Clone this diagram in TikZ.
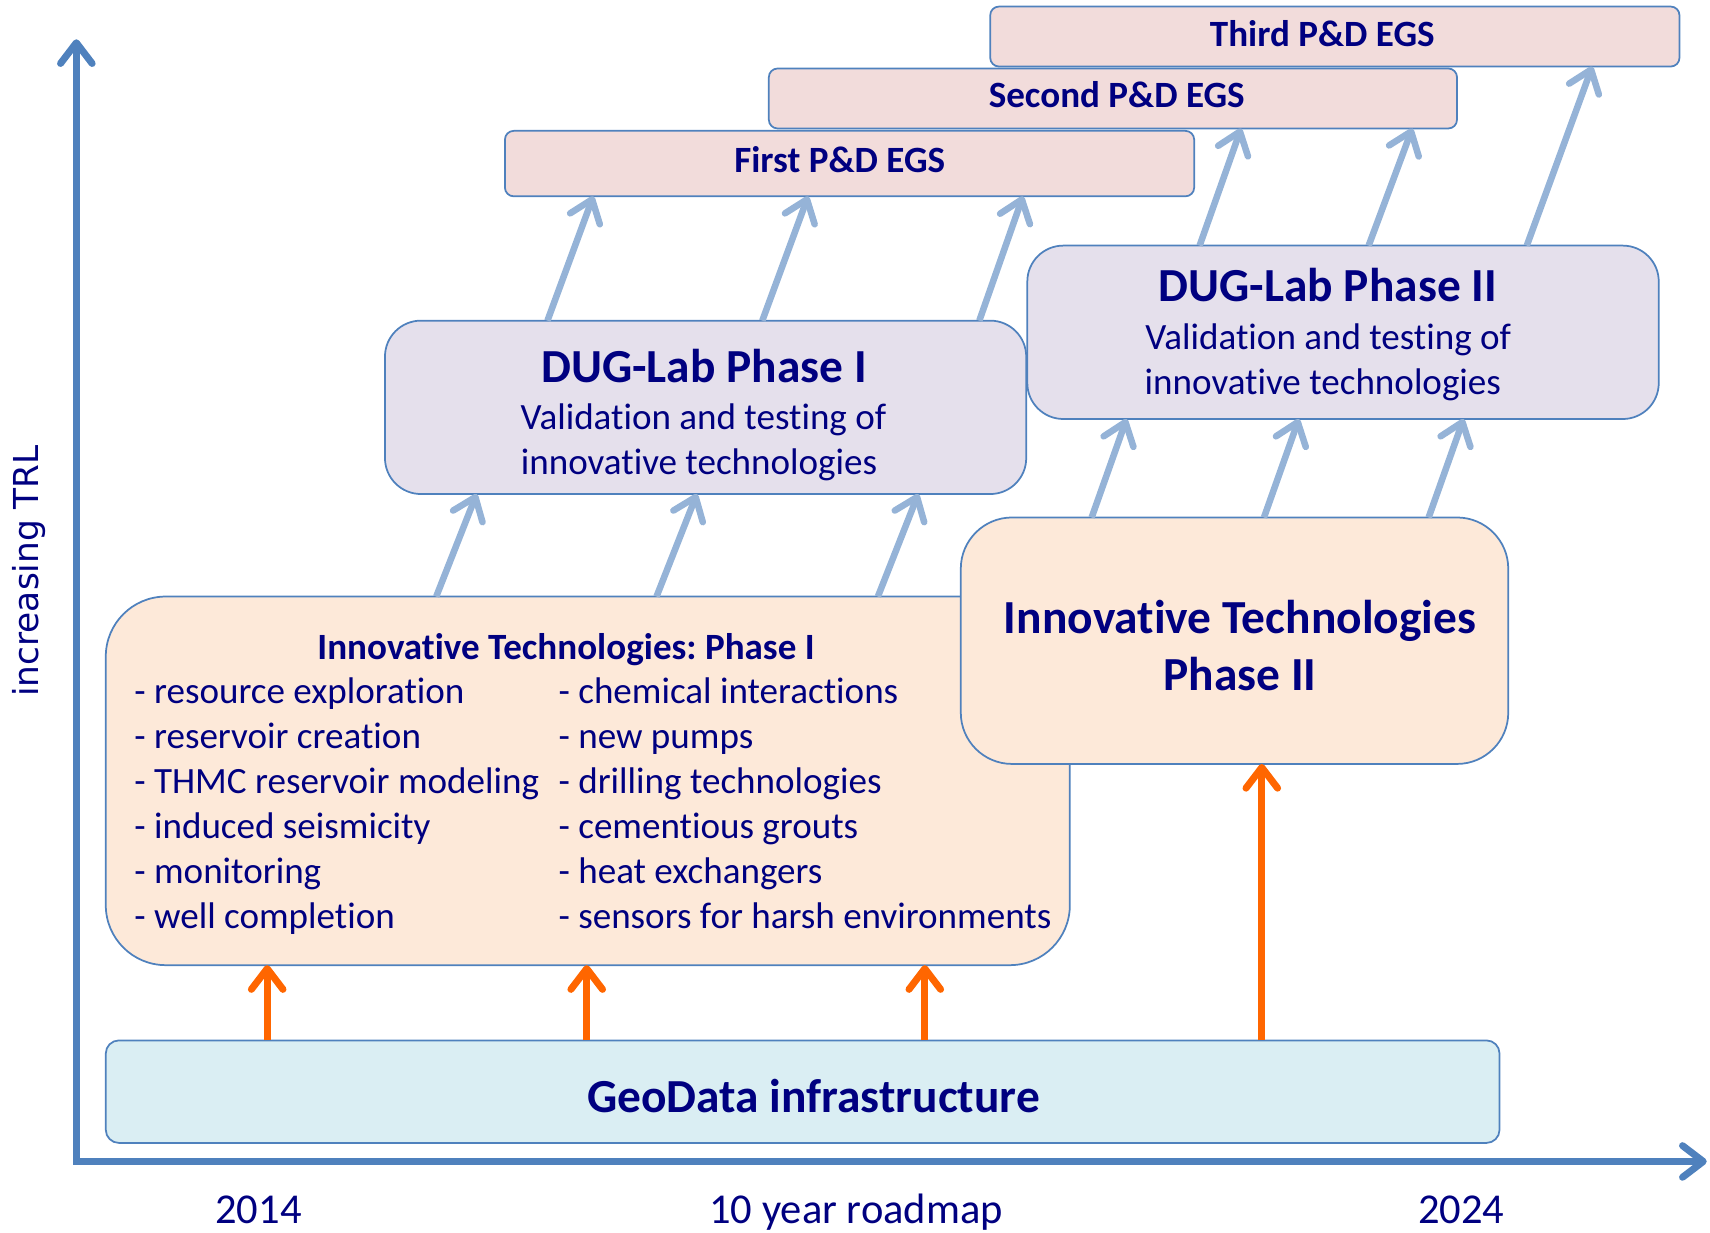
\documentclass[tikz,border=0pt]{standalone}
\usepackage{fontspec}
\setmainfont{Carlito}[Ligatures={NoCommon}]
\newfontfamily\dejavu{DejaVu Sans}
\usetikzlibrary{arrows.meta}
\definecolor{navy}{HTML}{000080}
\definecolor{axisblue}{HTML}{4F81BD}
\definecolor{lightb}{HTML}{95B3D7}
\definecolor{orangec}{HTML}{FF6600}
\definecolor{geofill}{HTML}{DAEEF3}
\definecolor{itfill}{HTML}{FDE9D9}
\definecolor{dugfill}{HTML}{E5E0EC}
\definecolor{pdfill}{HTML}{F2DCDB}
\frenchspacing
\begin{document}
\begin{tikzpicture}[x=1pt,y=-1pt,
  box/.style={draw=axisblue, line width=1.6pt, inner sep=0pt, outer sep=0pt},
  txt/.style={text=navy, inner sep=0pt, anchor=base},
  big/.style={font=\fontsize{43.5}{52}\selectfont\bfseries},
  mid/.style={font=\fontsize{34}{41}\selectfont},
  midb/.style={font=\fontsize{34}{41}\selectfont\bfseries},
  yr/.style={font=\fontsize{39}{47}\selectfont},
  arrO/.style={draw=orangec, line width=6.4pt, -{Straight Barb[length=19pt,width=29pt,round]}},
  arrB/.style={draw=lightb, line width=6pt, -{Straight Barb[length=19pt,width=29pt,round]}},
  axisarr/.style={draw=axisblue, line width=6.4pt, line join=miter,
    {Straight Barb[length=19pt,width=29pt,round]}-{Straight Barb[length=19pt,width=29pt,round]}}
]
\useasboundingbox (0,0) rectangle (1568,1130);

% axes
\coordinate (origin) at (70,1065);
\coordinate (ytip) at (70,36);
\coordinate (xtip) at (1565,1065);
\draw[axisarr] (ytip) -- (origin) -- (xtip);
\node[txt, anchor=base, rotate=90, font=\dejavu\fontsize{31.5}{38}\selectfont] (trl) at (35,523.5) {increasing TRL};
\node[txt, yr] (y2014) at (237,1122) {2014};
\node[txt, yr] (road) at (785,1122) {10 year roadmap};
\node[txt, yr] (y2024) at (1340,1122) {2024};

% boxes
\node[box, fill=geofill, rounded corners=12pt, minimum width=1278pt, minimum height=94pt] (geo) at (736,1001) {};
\node[box, fill=itfill, rounded corners=55pt, minimum width=884pt, minimum height=338pt] (itp1) at (539,716) {};
\node[box, fill=itfill, rounded corners=47pt, minimum width=502pt, minimum height=226pt] (itp2) at (1132,587.5) {};
\node[box, fill=dugfill, rounded corners=33pt, minimum width=588pt, minimum height=159pt] (dug1) at (647,373.5) {};
\node[box, fill=dugfill, rounded corners=33pt, minimum width=579pt, minimum height=159pt] (dug2) at (1231.5,304.7) {};
\node[box, fill=pdfill, rounded corners=8pt, minimum width=632pt, minimum height=60pt] (pd1) at (779,150) {};
\node[box, fill=pdfill, rounded corners=8pt, minimum width=631pt, minimum height=55pt] (pd2) at (1020.5,90.3) {};
\node[box, fill=pdfill, rounded corners=8pt, minimum width=632pt, minimum height=55pt] (pd3) at (1224,33.5) {};

% texts
\node[txt, big] (geot) at (746,1020) {GeoData infrastructure};
\node[txt, midb] (itp1t) at (519,604.5) {Innovative Technologies: Phase I};
\foreach \t [count=\i] in {{- resource exploration},{- reservoir creation},{- THMC reservoir modeling},{- induced seismicity},{- monitoring},{- well completion}}
  \node[txt, mid, anchor=base west] (la\i) at (123,{645.5+41.1*(\i-1)}) {\t};
\foreach \t [count=\i] in {{- chemical interactions},{- new pumps},{- drilling technologies},{- cementious grouts},{- heat exchangers},{- sensors for harsh environments}}
  \node[txt, mid, anchor=base west] (lb\i) at (512,{645.5+41.1*(\i-1)}) {\t};
\node[txt, big] (itp2a) at (1137,581) {Innovative Technologies};
\node[txt, big] (itp2b) at (1137,633) {Phase II};
\node[txt, big] (dug1a) at (645.5,351) {DUG-Lab Phase I};
\node[txt, mid] (dug1b) at (645,394) {Validation and testing of};
\node[txt, mid] (dug1c) at (641,435.5) {innovative technologies};
\node[txt, big] (dug2a) at (1217.5,276.5) {DUG-Lab Phase II};
\node[txt, mid] (dug2b) at (1218,320.5) {Validation and testing of};
\node[txt, mid] (dug2c) at (1213,361.5) {innovative technologies};
\node[txt, midb] (pd1t) at (770,158.5) {First P\&D EGS};
\node[txt, midb] (pd2t) at (1024,99) {Second P\&D EGS};
\node[txt, midb] (pd3t) at (1212.5,43) {Third P\&D EGS};

% orange arrows
\draw[arrO] ([xshift=148pt]geo.north west) -- ([xshift=148pt]itp1.south west);
\draw[arrO] ([xshift=441pt]geo.north west) -- ([xshift=441pt]itp1.south west);
\draw[arrO] ([xshift=751pt]geo.north west) -- ([xshift=751pt]itp1.south west);
\draw[arrO] ([xshift=1060pt]geo.north west) -- ([xshift=276pt]itp2.south west);

% blue arrows: innovative phase I -> DUG-Lab I
\draw[arrB] ([xshift=303pt]itp1.north west) -- ([xshift=84pt]dug1.south west);
\draw[arrB] ([xshift=505pt]itp1.north west) -- ([xshift=286pt]dug1.south west);
\draw[arrB] ([xshift=708pt]itp1.north west) -- ([xshift=489pt]dug1.south west);
% DUG-Lab I -> First P&D
\draw[arrB] ([xshift=149pt]dug1.north west) -- ([xshift=81pt]pd1.south west);
\draw[arrB] ([xshift=346pt]dug1.north west) -- ([xshift=278pt]pd1.south west);
\draw[arrB] ([xshift=545pt]dug1.north west) -- ([xshift=475pt]pd1.south west);
% innovative phase II -> DUG-Lab II
\draw[arrB] ([xshift=120pt]itp2.north west) -- ([xshift=91pt]dug2.south west);
\draw[arrB] ([xshift=278pt]itp2.north west) -- ([xshift=249pt]dug2.south west);
\draw[arrB] ([xshift=429pt]itp2.north west) -- ([xshift=400pt]dug2.south west);
% DUG-Lab II -> Second / Third P&D
\draw[arrB] ([xshift=158pt]dug2.north west) -- ([xshift=433pt]pd2.south west);
\draw[arrB] ([xshift=313pt]dug2.north west) -- ([xshift=590pt]pd2.south west);
\draw[arrB] ([xshift=458pt]dug2.north west) -- ([xshift=552pt]pd3.south west);
\end{tikzpicture}
\end{document}
